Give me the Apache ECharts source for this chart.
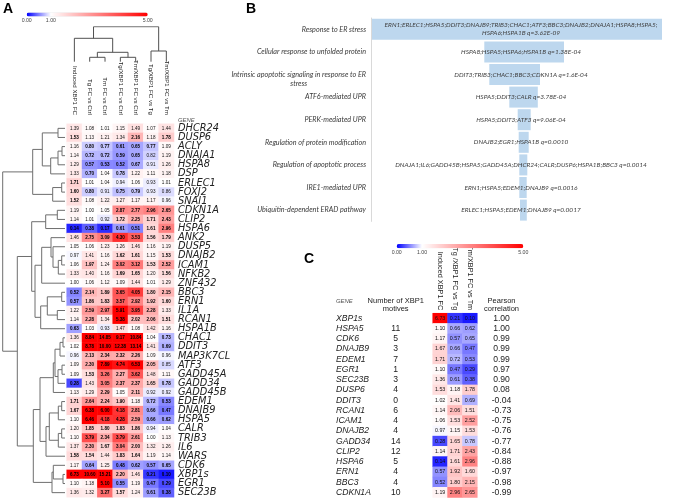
<!DOCTYPE html>
<html><head><meta charset="utf-8">
<script src="https://cdn.jsdelivr.net/npm/echarts@6/dist/echarts.min.js"></script>
<style>html,body{margin:0;padding:0;background:#fff}#main{width:676px;height:500px}</style>
</head><body><div id="main"></div>
<script>
// ================= Panel A data =================
const colLabelsA = ['Induced XBP1 FC','Tg FC vs Ctrl','Tm FC vs Ctrl','Tg/XBP1 FC vs Ctrl','Tm/XBP1 FC vs Ctrl','Tg/XBP1 FC vs Tg','Tm/XBP1 FC vs Tm'];
const genesA = ['DHCR24','DUSP6','ACLY','DNAJA1','HSPA8','DSP','ERLEC1','FOXJ2','SNAI1','CDKN1A','CLIP2','HSPA6','ANK2','DUSP5','DNAJB2','ICAM1','NFKB2','ZNF432','BBC3','ERN1','IL1A','RCAN1','HSPA1B','CHAC1','DDIT3','MAP3K7CL','ATF3','GADD45A','GADD34','GADD45B','EDEM1','DNAJB9','HSPA5','CALR','TRIB3','IL6','WARS','CDK6','XBP1s','EGR1','SEC23B'];
const valuesA = [
 [1.39,1.08,1.01,1.15,1.49,1.07,1.44],
 [1.53,1.13,1.21,1.34,2.16,1.18,1.78],
 [1.16,0.80,0.77,0.61,0.65,0.77,1.09],
 [1.14,0.72,0.72,0.59,0.65,0.82,1.19],
 [1.29,0.57,0.53,0.52,0.67,0.91,1.26],
 [1.33,0.70,1.04,0.78,1.22,1.11,1.18],
 [1.71,1.01,1.04,0.94,1.06,0.93,1.01],
 [1.60,0.80,0.91,0.75,0.79,0.93,0.86],
 [1.52,1.08,1.22,1.27,1.17,1.17,0.96],
 [1.19,1.00,1.05,2.87,2.77,2.96,2.65],
 [1.14,1.01,0.92,1.72,2.25,1.71,2.43],
 [0.14,0.38,0.17,0.61,0.51,1.61,2.96],
 [1.46,2.75,3.09,4.30,3.53,1.56,1.79],
 [1.05,1.06,1.23,1.26,1.46,1.16,1.19],
 [0.97,1.41,1.16,1.62,1.61,1.15,1.53],
 [1.06,1.97,1.24,3.02,3.12,1.53,2.52],
 [1.33,1.40,1.16,1.69,1.65,1.20,1.56],
 [1.00,1.06,1.12,1.09,1.44,1.01,1.29],
 [0.52,2.14,1.89,3.65,4.05,1.80,2.15],
 [0.57,1.86,1.83,3.57,2.92,1.92,1.60],
 [1.22,2.59,2.97,5.91,3.95,2.28,1.33],
 [1.14,2.28,1.34,5.38,2.02,2.06,1.51],
 [0.63,1.03,0.93,1.47,1.08,1.42,1.16],
 [1.36,8.84,14.85,9.17,10.84,1.04,0.73],
 [1.02,8.78,10.00,12.38,13.14,1.41,0.69],
 [0.96,2.13,2.34,2.32,2.26,1.09,0.96],
 [1.09,2.30,7.89,4.74,6.53,2.05,0.85],
 [1.09,1.53,3.26,2.27,3.62,1.48,1.11],
 [0.28,1.43,3.05,2.37,2.37,1.65,0.78],
 [1.13,1.29,2.29,1.05,2.11,0.92,0.92],
 [1.71,2.64,2.24,1.90,1.18,0.72,0.53],
 [1.67,6.38,6.00,4.18,2.81,0.66,0.47],
 [1.10,6.46,4.18,4.28,2.59,0.66,0.62],
 [1.20,1.85,1.80,1.83,1.86,0.94,1.04],
 [1.10,3.79,2.34,3.79,2.61,1.00,1.13],
 [1.37,2.30,1.67,3.04,2.00,1.32,1.26],
 [1.58,1.54,1.44,1.83,1.64,1.19,1.14],
 [1.17,0.64,1.25,0.48,0.62,0.57,0.65],
 [6.73,10.60,15.21,2.20,1.46,0.21,0.10],
 [1.10,1.18,5.10,0.55,1.19,0.47,0.29],
 [1.36,1.32,3.27,1.57,1.24,0.61,0.38]
];
// dendrogram merges: [childA, childB, height]; ids < n are leaves, id n+k is the k-th merge
const rowMergesA = [
 [0,1,7],[2,3,3],[42,4,7],[43,5,14.3],[41,44,22.7],[6,7,3.3],[46,8,12.3],[45,47,32.3],
 [9,10,7.7],[49,11,19.3],[14,15,3.3],[51,16,6.7],[13,52,12],[12,53,14],[54,17,23.3],
 [18,19,3.3],[20,21,7.7],[56,57,17.7],[58,22,24.3],[55,59,30],[50,60,33.3],
 [23,24,2],[62,25,5],[26,27,3],[64,28,7],[63,65,10],[66,29,11.7],
 [30,31,3.3],[68,32,6.7],[33,34,3.3],[70,35,6.7],[69,71,15.7],[72,36,19],[67,73,25],
 [38,39,2],[37,75,11.7],[76,40,13],[74,77,31.7],[61,78,47.7],[48,79,62.3]
];
const colMergesA = [[1,2,4.4],[3,4,4.4],[7,8,9.4],[0,9,23.4],[5,6,10.7],[10,11,35]];
const scaleTicks = [0, 1, 5];

// ================= Panel B data =================
const pathways = ['Response to ER stress','Cellular response to unfolded protein','Intrinsic apoptotic signaling in response to ER stress','ATF6-mediated UPR','PERK-mediated UPR','Regulation of protein modification','Regulation of apoptotic process','IRE1-mediated UPR','Ubiquitin-dependent ERAD pathway'];
const pathwayGenes = [
 'ERN1;ERLEC1;HSPA5;DDIT3;DNAJB9;TRIB3;CHAC1;ATF3;BBC3;DNAJB2;DNAJA1;HSPA8;HSPA5;HSPA6;HSPA1B',
 'HSPA8;HSPA5;HSPA6;HSPA1B','DDIT3;TRIB3;CHAC1;BBC3;CDKN1A','HSPA5;DDIT3;CALR','HSPA5;DDIT3;ATF3',
 'DNAJB2;EGR1;HSPA1B','DNAJA1;IL6;GADD45B;HSPA5;GADD45A;DHCR24;CALR;DUSP6;HSPA1B;BBC3',
 'ERN1;HSPA5;EDEM1;DNAJB9','ERLEC1;HSPA5;EDEM1;DNAJB9'];
const pathwayQ = ['3.62E-09','1.38E-04','1.6E-04','3.78E-04','9.06E-04','0.0010','0.0014','0.0016','0.0017'];
const barStart  = [1, 113.3, 118.3, 138.3, 146.7, 147.7, 148.3, 148.3, 149];
const barLength = [290, 79.7, 50.7, 28.5, 13, 10, 8, 7.4, 6.8];
const bAxisMax = 300;

// ================= Panel C data =================
const colLabelsC = ['Induced XBP1 FC','Tg /XBP1 FC vs Tg','Tm/XBP1 FC vs Tm'];
const genesC = ['XBP1s','HSPA5','CDK6','DNAJB9','EDEM1','EGR1','SEC23B','DUSP6','DDIT3','RCAN1','ICAM1','DNAJB2','GADD34','CLIP2','HSPA6','ERN1','BBC3','CDKN1A'];
const motifsC = ['', '11','5','3','7','1','3','4','0','6','4','4','14','12','5','4','4','10'];
const pearsonC = [1.00,1.00,0.99,0.99,0.99,0.97,0.90,0.08,-0.04,-0.73,-0.75,-0.76,-0.77,-0.84,-0.88,-0.97,-0.98,-0.99];
const valuesC = [
 [6.73,0.21,0.10],[1.10,0.66,0.62],[1.17,0.57,0.65],[1.67,0.66,0.47],[1.71,0.72,0.53],
 [1.10,0.47,0.29],[1.36,0.61,0.38],[1.53,1.18,1.78],[1.02,1.41,0.69],[1.14,2.06,1.51],
 [1.06,1.53,2.52],[0.97,1.15,1.53],[0.28,1.65,0.78],[1.14,1.71,2.43],[0.14,1.61,2.96],
 [0.57,1.92,1.60],[0.52,1.80,2.15],[1.19,2.96,2.65]
];

// ================= helpers =================
const SANS = '"Liberation Sans", Arial, Helvetica, sans-serif';
const NARROW = '"Liberation Sans Narrow", "Arial Narrow", "Liberation Sans", sans-serif';
const CAL = 'Lato, "Liberation Sans", sans-serif';

function scaleColors() {
  const out = [];
  for (let i = 0; i <= 20; i++) {
    const v = i * 0.25;
    let r, g, b;
    if (v <= 1) { r = Math.round(255 * v); g = r; b = 255; }
    else { const t = (v - 1) / 4; r = 255; g = Math.round(255 * (1 - t)); b = g; }
    out.push('rgb(' + r + ',' + g + ',' + b + ')');
  }
  return out;
}
const COLORS = scaleColors();

function dendroLines(merges, n, horizontal) {
  const pos = [], hgt = [];
  for (let i = 0; i < n; i++) { pos.push(i); hgt.push(0); }
  const out = [];
  merges.forEach(function (m) {
    const a = m[0], b = m[1], h = m[2];
    const pts = [[pos[a], hgt[a]], [pos[a], h], [pos[b], h], [pos[b], hgt[b]]];
    out.push({ coords: horizontal ? pts.map(p => [p[1], p[0]]) : pts });
    pos.push((pos[a] + pos[b]) / 2); hgt.push(h);
  });
  return out;
}

const heatA = [];
valuesA.forEach((row, r) => row.forEach((v, c) => heatA.push([c, r, v])));
const heatC = [];
valuesC.forEach((row, r) => row.forEach((v, c) => heatC.push([c, r, v])));

function wrapGenes(s) {
  if (s.length <= 88) return s;
  let i = s.lastIndexOf(';', 80);
  return s.slice(0, i + 1) + '\n' + s.slice(i + 1);
}

// ================= layout =================
const gA = {left: 66.7, top: 123.8, width: 107.3, height: 373.4};
const gC = {left: 432.7, top: 313.2, width: 44.6, height: 184.3};
const noBounds = {outerBoundsMode: 'none'};
const grids = [
  Object.assign({}, gA, noBounds),                                          // 0 A heatmap
  Object.assign({left: 2, top: gA.top, width: 63, height: gA.height}, noBounds), // 1 row dendro
  Object.assign({left: gA.left, top: 26.7, width: gA.width, height: 35}, noBounds), // 2 col dendro
  Object.assign({left: 26.7, top: 16.6, width: 121, height: 0.2}, noBounds),  // 3 A scale labels
  Object.assign({left: 371, top: 18, width: 300, height: 203.4}, noBounds),   // 4 B bars
  Object.assign({}, gC, noBounds),                                          // 5 C heatmap
  Object.assign({left: 395.7, top: gC.top, width: 1, height: gC.height}, noBounds), // 6 motifs
  Object.assign({left: 501.5, top: gC.top, width: 1, height: gC.height}, noBounds), // 7 pearson
  Object.assign({left: 396.7, top: 248.2, width: 126.6, height: 0.2}, noBounds) // 8 C scale labels
];
const hid = {show: false};
const noLine = {axisLine: hid, axisTick: hid, splitLine: hid, splitArea: hid};

const scaleAxis = (gi) => Object.assign({gridIndex: gi, type: 'value', min: 0, max: 5}, noLine, {
  axisLabel: {customValues: scaleTicks, formatter: v => Number(v).toFixed(2), fontSize: 5.2, margin: 1.5, color: '#444', fontFamily: SANS}
});

const labelRichB = {
  s: {fontFamily: CAL, fontStyle: 'italic', fontSize: 7.2, color: '#3a3a3a'},
  l1: {fontFamily: CAL, fontStyle: 'italic', fontSize: 7.2, color: '#3a3a3a', lineHeight: 9.3},
  l2: {fontFamily: CAL, fontStyle: 'italic', fontSize: 7.2, color: '#3a3a3a', lineHeight: 9.3, align: 'center'},
  e: {fontSize: 7.2, lineHeight: 9.3}
};

const option = {
  animation: false,
  backgroundColor: '#fff',
  textStyle: {fontFamily: SANS},
  grid: grids,
  xAxis: [
    Object.assign({gridIndex: 0, type: 'category', data: colLabelsA, position: 'top'}, noLine,
      {axisLabel: {rotate: 90, margin: 9, interval: 0, fontFamily: NARROW, fontSize: 6.1, color: '#222'}}),
    {gridIndex: 1, type: 'value', min: 0, max: 63, inverse: true, show: false},
    {gridIndex: 2, type: 'value', min: -0.5, max: 6.5, show: false},
    scaleAxis(3),
    {gridIndex: 4, type: 'value', min: 0, max: bAxisMax, show: false},
    Object.assign({gridIndex: 5, type: 'category', data: colLabelsC, position: 'top'}, noLine,
      {axisLabel: {rotate: 90, margin: 3, interval: 0, fontFamily: NARROW, fontSize: 7.3, color: '#222'}}),
    {gridIndex: 6, type: 'value', show: false},
    {gridIndex: 7, type: 'value', show: false},
    scaleAxis(8)
  ],
  yAxis: [
    Object.assign({gridIndex: 0, type: 'category', data: genesA, inverse: true, position: 'right'}, noLine,
      {axisLabel: {interval: 0, margin: 4, fontFamily: '"DejaVu Sans", sans-serif', fontStyle: 'italic', fontSize: 9.8, color: '#222'}}),
    {gridIndex: 1, type: 'value', min: -0.5, max: genesA.length - 0.5, inverse: true, show: false},
    {gridIndex: 2, type: 'value', min: 0, max: 35, show: false},
    {gridIndex: 3, type: 'value', show: false},
    {gridIndex: 4, type: 'category', data: pathways, inverse: true,
      axisLine: {show: true, lineStyle: {color: '#d9d9d9', width: 1}}, axisTick: hid, splitLine: hid,
      axisLabel: {interval: 0, margin: 5, formatter: function (v) {
        if (v.length > 45) { const i = v.lastIndexOf(' '); return '{e| }\n{l1|' + v.slice(0, i) + '}\n{l2|' + v.slice(i + 1) + '}'; }
        return '{s|' + v + '}';
      }, rich: labelRichB}},
    Object.assign({gridIndex: 5, type: 'category', data: genesC, inverse: true}, noLine,
      {axisLabel: {interval: 0, align: 'left', margin: gC.left - 336, fontFamily: SANS, fontStyle: 'italic', fontSize: 8.6, color: '#222'}}),
    Object.assign({gridIndex: 6, type: 'category', data: motifsC, inverse: true}, noLine,
      {axisLabel: {interval: 0, align: 'center', margin: 0, fontFamily: SANS, fontSize: 8.6, color: '#222'}}),
    Object.assign({gridIndex: 7, type: 'category', data: pearsonC.map(v => v.toFixed(2)), inverse: true}, noLine,
      {axisLabel: {interval: 0, align: 'center', margin: 0, fontFamily: SANS, fontSize: 8.6, color: '#222'}}),
    {gridIndex: 8, type: 'value', show: false}
  ],
  visualMap: [
    {type: 'continuous', seriesIndex: 0, dimension: 2, min: 0, max: 5, orient: 'horizontal',
     left: 26.7, top: 12.6, itemWidth: 4, itemHeight: 121, padding: 0, calculable: false, hoverLink: false,
     showLabel: false, text: null, inRange: {color: COLORS}},
    {type: 'continuous', seriesIndex: 6, dimension: 2, min: 0, max: 5, orient: 'horizontal',
     left: 396.7, top: 244, itemWidth: 4.3, itemHeight: 126.6, padding: 0, calculable: false, hoverLink: false,
     showLabel: false, text: null, inRange: {color: COLORS}}
  ],
  series: [
    {type: 'heatmap', xAxisIndex: 0, yAxisIndex: 0, data: heatA, emphasis: {disabled: true},
     label: {show: true, fontFamily: SANS, fontSize: 4.6, color: '#111',
       formatter: function (p) { const v = p.value[2]; const s = v.toFixed(2); return (v >= 1.5 || v <= 0.8) ? '{b|' + s + '}' : s; },
       rich: {b: {fontFamily: SANS, fontSize: 4.6, fontWeight: 'bold', color: '#000'}}}},
    {type: 'lines', coordinateSystem: 'cartesian2d', xAxisIndex: 1, yAxisIndex: 1, polyline: true, silent: true,
     data: dendroLines(rowMergesA, genesA.length, true), lineStyle: {color: '#6e6e6e', width: 1, opacity: 1}},
    {type: 'lines', coordinateSystem: 'cartesian2d', xAxisIndex: 2, yAxisIndex: 2, polyline: true, silent: true,
     data: dendroLines(colMergesA, colLabelsA.length, false), lineStyle: {color: '#505050', width: 1, opacity: 1}},
    {type: 'bar', xAxisIndex: 4, yAxisIndex: 4, stack: 'funnel', data: barStart, barWidth: '93%', silent: true,
     itemStyle: {color: 'rgba(0,0,0,0)'}},
    {type: 'bar', xAxisIndex: 4, yAxisIndex: 4, stack: 'funnel', data: barLength, barWidth: '93%', silent: true,
     itemStyle: {color: '#bdd7ee'}},
    {type: 'bar', xAxisIndex: 4, yAxisIndex: 4, data: pathways.map(() => bAxisMax), barWidth: '93%', barGap: '-100%', silent: true,
     itemStyle: {color: 'rgba(0,0,0,0)'}, z: 5,
     label: {show: true, position: 'inside', fontFamily: CAL, fontStyle: 'italic', fontSize: 6.5, color: '#404040', lineHeight: 7.8,
       formatter: p => wrapGenes(pathwayGenes[p.dataIndex] + ' q=' + pathwayQ[p.dataIndex])}},
    {type: 'heatmap', xAxisIndex: 5, yAxisIndex: 5, data: heatC, emphasis: {disabled: true},
     label: {show: true, fontFamily: SANS, fontSize: 5.3, color: '#111', formatter: p => p.value[2].toFixed(2)}}
  ],
  graphic: [
    {type: 'text', x: 3, y: 9, style: {text: 'A', font: 'bold 14px ' + SANS, fill: '#000', align: 'left', verticalAlign: 'middle'}},
    {type: 'text', x: 246, y: 9, style: {text: 'B', font: 'bold 14px ' + SANS, fill: '#000', align: 'left', verticalAlign: 'middle'}},
    {type: 'text', x: 304, y: 259.5, style: {text: 'C', font: 'bold 14px ' + SANS, fill: '#000', align: 'left', verticalAlign: 'middle'}},
    {type: 'text', x: 178, y: 120.8, style: {text: 'GENE', font: 'italic 5.9px ' + SANS, fill: '#555', align: 'left', verticalAlign: 'middle'}},
    {type: 'text', x: 336, y: 301.7, style: {text: 'GENE', font: 'italic 5.9px ' + SANS, fill: '#555', align: 'left', verticalAlign: 'middle'}},
    {type: 'text', x: 395.7, y: 305, style: {text: 'Number of XBP1\nmotives', font: '7.5px ' + SANS, fill: '#222', align: 'center', verticalAlign: 'middle', lineHeight: 7.8}},
    {type: 'text', x: 501.5, y: 305, style: {text: 'Pearson\ncorrelation', font: '7.5px ' + SANS, fill: '#222', align: 'center', verticalAlign: 'middle', lineHeight: 7.8}}
  ]
};

const chart = echarts.init(document.getElementById('main'), null, {renderer: 'canvas', width: 676, height: 500});
chart.setOption(option);
</script>
</body></html>
